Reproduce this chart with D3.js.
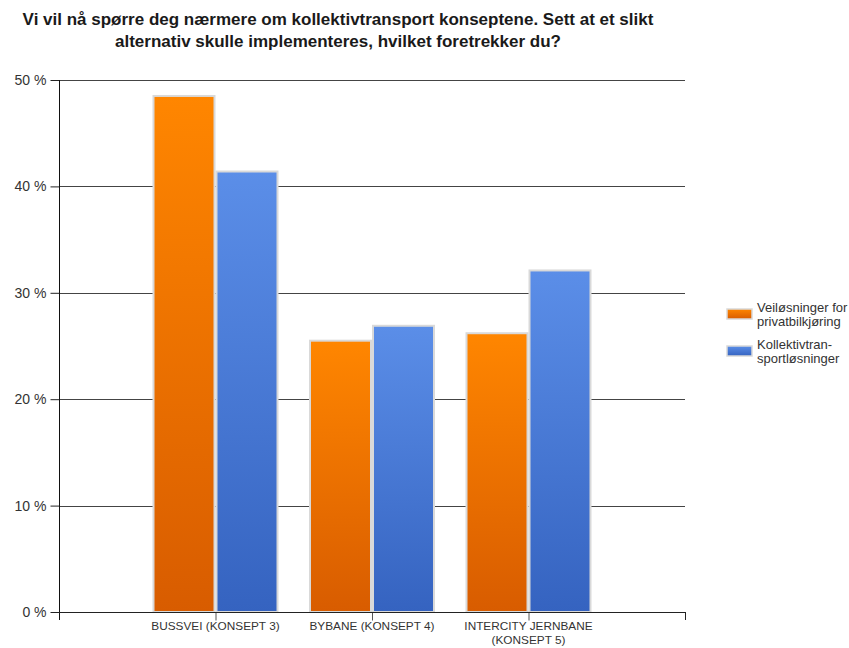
<!DOCTYPE html>
<html>
<head>
<meta charset="utf-8">
<script src="https://cdnjs.cloudflare.com/ajax/libs/d3/7.8.5/d3.min.js"></script>
<style>
  html, body { margin: 0; padding: 0; background: #fff; }
  svg { display: block; }
</style>
</head>
<body>
<svg id="chart" width="849" height="648"></svg>
<script>
// Survey answers, share of respondents (%)
const categories = ["BUSSVEI (KONSEPT 3)", "BYBANE (KONSEPT 4)", "INTERCITY JERNBANE\n(KONSEPT 5)"];
const seriesNames = ["Veiløsninger for\nprivatbilkjøring", "Kollektivtran-\nsportløsninger"];
const veiValues = [48.5, 25.5, 26.2];
const kollektivValues = [41.4, 26.9, 32.1];
const yTicks = [0, 10, 20, 30, 40, 50];
const titleLines = [
  "Vi vil nå spørre deg nærmere om kollektivtransport konseptene. Sett at et slikt",
  "alternativ skulle implementeres, hvilket foretrekker du?"
];

const seriesValues = [veiValues, kollektivValues];
const gradients = [
  { id: "gOrange", top: "#ff8600", bottom: "#d85c00" },
  { id: "gBlue", top: "#5b8ee8", bottom: "#3563c0" }
];

const svg = d3.select("#chart");
const plotLeft = 59, plotRight = 685, plotTop = 80, plotBottom = 612;

const defs = svg.append("defs");
gradients.forEach(g => {
  const lg = defs.append("linearGradient").attr("id", g.id)
    .attr("x1", 0).attr("y1", 0).attr("x2", 0).attr("y2", 1);
  lg.append("stop").attr("offset", "0%").attr("stop-color", g.top);
  lg.append("stop").attr("offset", "100%").attr("stop-color", g.bottom);
});

const font = "'Liberation Sans', Arial, sans-serif";

// Title
svg.append("g").selectAll("text").data(titleLines).join("text")
  .attr("x", 338).attr("y", (d, i) => 25 + i * 22)
  .attr("text-anchor", "middle")
  .attr("font-family", font).attr("font-weight", "bold")
  .attr("font-size", 17).attr("fill", "#1a1a1a")
  .text(d => d);

const y = d3.scaleLinear().domain([0, 50]).range([plotBottom, plotTop]);
const x = d3.scalePoint().domain(categories).range([plotLeft, plotRight]).padding(1);
const groupWidth = 126;
const xs = d3.scaleBand().domain(d3.range(seriesValues.length)).range([-groupWidth / 2, groupWidth / 2]);

// Gridlines
svg.append("g").selectAll("line").data(yTicks.filter(d => d > 0)).join("line")
  .attr("x1", plotLeft).attr("x2", plotRight)
  .attr("y1", d => Math.round(y(d)) + 0.5).attr("y2", d => Math.round(y(d)) + 0.5)
  .attr("stroke", "#444").attr("stroke-width", 1);

// Y axis
const yAxis = d3.axisLeft(y).tickValues(yTicks).tickSize(9).tickPadding(4)
  .tickFormat(d => d + " %");
const gy = svg.append("g").attr("transform", `translate(${plotLeft + 0.5},0)`).call(yAxis);
gy.select(".domain").remove();
gy.selectAll(".tick line").attr("stroke", "#222");
gy.selectAll(".tick text").attr("font-family", font).attr("font-size", 14).attr("fill", "#333");
svg.append("line").attr("x1", plotLeft + 0.5).attr("x2", plotLeft + 0.5)
  .attr("y1", plotTop).attr("y2", plotBottom + 8).attr("stroke", "#111");

// Bars
const bars = svg.append("g");
seriesValues.forEach((vals, si) => {
  bars.selectAll(null).data(vals.map((v, i) => ({ v, c: categories[i] }))).join("rect")
    .attr("x", d => x(d.c) + xs(si) + 1)
    .attr("y", d => y(d.v))
    .attr("width", xs.bandwidth() - 2)
    .attr("height", d => plotBottom - y(d.v))
    .attr("fill", `url(#${gradients[si].id})`)
    .attr("stroke", "#d9d9d9").attr("stroke-width", 2);
});

// X axis
const xAxis = d3.axisBottom(x).tickSize(8).tickFormat("");
const gx = svg.append("g").attr("transform", `translate(0,${plotBottom + 0.5})`).call(xAxis);
gx.select(".domain").remove();
gx.selectAll(".tick line").attr("stroke", "#555");
svg.append("line").attr("x1", plotLeft).attr("x2", plotRight + 0.5)
  .attr("y1", plotBottom + 0.5).attr("y2", plotBottom + 0.5).attr("stroke", "#222");
svg.append("line").attr("x1", plotRight + 0.5).attr("x2", plotRight + 0.5)
  .attr("y1", plotBottom).attr("y2", plotBottom + 8).attr("stroke", "#222");

// Category labels (each line its own text element)
const labelLines = [];
categories.forEach(c => c.split("\n").forEach((ln, i) => labelLines.push({ c, ln, i })));
svg.append("g").selectAll("text").data(labelLines).join("text")
  .attr("x", d => x(d.c)).attr("y", d => plotBottom + 18 + d.i * 13.5)
  .attr("text-anchor", "middle")
  .attr("font-family", font).attr("font-size", 11.8).attr("fill", "#333")
  .text(d => d.ln);

// Legend
const legend = svg.append("g");
seriesNames.forEach((name, i) => {
  const ly = 309 + i * 37;
  legend.append("rect").attr("x", 727).attr("y", ly).attr("width", 25).attr("height", 10)
    .attr("fill", `url(#${gradients[i].id})`).attr("stroke", "#d9d9d9").attr("stroke-width", 1.5);
  const t = legend.append("text").attr("x", 757).attr("y", ly + 3)
    .attr("font-family", font).attr("font-size", 13).attr("fill", "#333");
  name.split("\n").forEach((ln, j) => {
    t.append("tspan").attr("x", 757).attr("dy", j === 0 ? 0 : 14).text(ln);
  });
});
</script>
</body>
</html>
